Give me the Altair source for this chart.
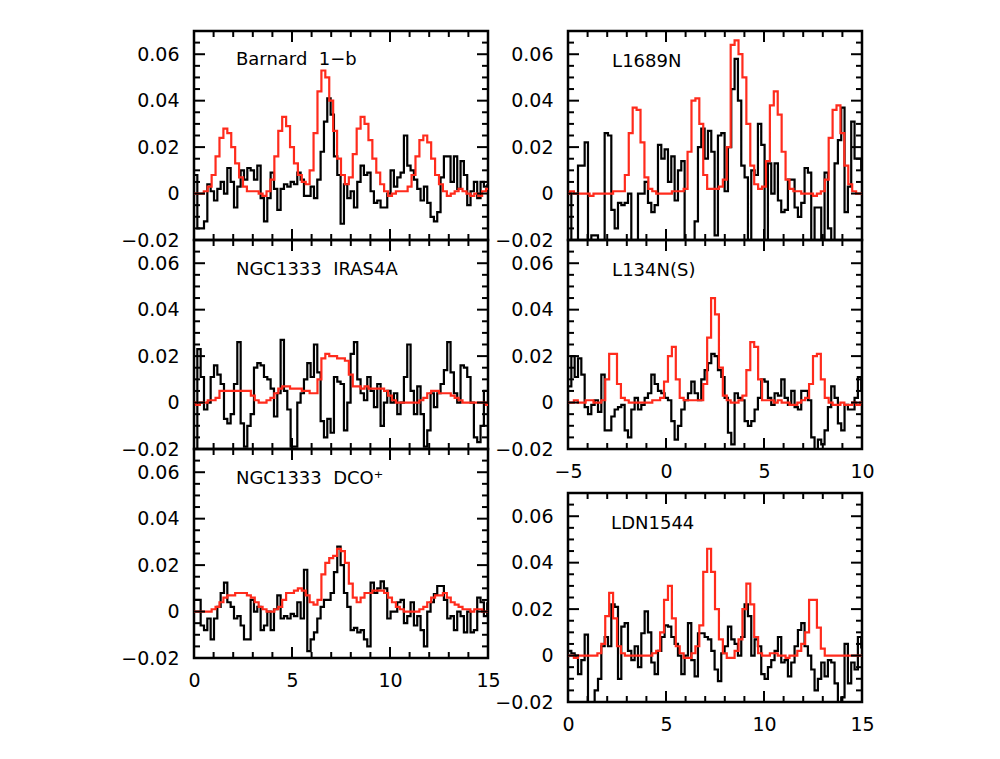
import altair as alt
import pandas as pd

# ---------------- data ----------------
DV_OBS = 0.17   # observed channel width (km/s)
DV_MOD = 0.2    # model grid step (km/s)

# Barnard 1-b
b1_obs_x0 = 0.0
b1_obs = [0.008, -0.015, -0.015, -0.012, 0.004, 0.001, -0.003, 0.002, 0.005, 0.000,
          0.011, 0.005, -0.006, 0.003, 0.010, 0.006, 0.011, 0.010, 0.006, 0.012,
          -0.002, -0.012, -0.002, 0.009, 0.002, -0.007, 0.002, 0.004, 0.003, 0.005,
          0.004, 0.009, 0.006, -0.001, -0.001, 0.003, -0.002, 0.006, 0.018, 0.031,
          0.041, 0.034, 0.016, 0.008, -0.013, 0.004, -0.002, 0.001, -0.006, 0.005,
          0.012, 0.008, 0.009, 0.001, -0.004, -0.003, -0.006, -0.006, 0.000, 0.010,
          0.003, 0.007, 0.009, 0.025, 0.012, 0.010, 0.006, 0.002, -0.003, 0.003,
          -0.004, -0.010, -0.012, -0.008, 0.007, 0.016, 0.016, 0.005, 0.016, 0.002,
          0.014, 0.008, -0.005, 0.001, 0.005, -0.002, 0.005, 0.003, 0.004]
b1_mod_x0 = 0.0
b1_mod = [0.000, 0.000, 0.000, 0.001, 0.003, 0.008, 0.016, 0.024, 0.028, 0.026,
          0.020, 0.013, 0.007, 0.003, 0.001, 0.001, 0.001, 0.000, -0.001, 0.001,
          0.006, 0.016, 0.027, 0.033, 0.029, 0.020, 0.013, 0.008, 0.005, 0.004,
          0.010, 0.026, 0.044, 0.053, 0.050, 0.040, 0.027, 0.015, 0.008, 0.004,
          0.007, 0.017, 0.028, 0.033, 0.030, 0.023, 0.015, 0.009, 0.004, 0.001,
          -0.001, 0.000, 0.001, 0.001, 0.001, 0.003, 0.008, 0.016, 0.023, 0.025,
          0.022, 0.015, 0.008, 0.004, 0.001, -0.001, 0.000, 0.001, 0.002, 0.001,
          0.000, -0.001, 0.000, -0.001, 0.001, 0.002]

# NGC1333 IRAS4A
i4_obs_x0 = 0.0
i4_obs = [-0.021, 0.023, 0.011, -0.003, 0.000, 0.011, 0.016, 0.012, 0.008, -0.007,
          -0.009, -0.005, 0.008, 0.026, -0.009, -0.019, -0.010, -0.005, 0.015, 0.017,
          0.016, 0.011, 0.010, 0.006, -0.006, 0.004, 0.027, 0.005, -0.003, -0.019,
          -0.019, 0.000, 0.004, 0.010, 0.017, 0.011, 0.025, 0.013, -0.008, -0.015,
          -0.007, -0.013, 0.011, 0.009, 0.008, -0.012, 0.000, 0.021, 0.026, 0.010,
          0.004, 0.001, 0.011, 0.005, -0.002, 0.008, -0.010, 0.000, 0.005, 0.000,
          0.004, -0.005, 0.000, 0.011, 0.025, 0.005, -0.005, 0.007, -0.005, -0.019,
          -0.012, 0.004, -0.002, 0.004, 0.008, 0.014, 0.026, 0.013, 0.004, 0.000,
          0.016, 0.015, 0.011, 0.000, -0.015, -0.017, -0.010, 0.005, 0.005]
i4_mod_x0 = 0.0
i4_mod = [0.000, -0.001, 0.000, 0.000, 0.001, 0.001, 0.002, 0.005, 0.005, 0.005,
          0.005, 0.005, 0.005, 0.005, 0.005, 0.003, 0.001, 0.000, 0.000, 0.001,
          0.002, 0.004, 0.006, 0.007, 0.007, 0.006, 0.006, 0.006, 0.005, 0.005,
          0.004, 0.004, 0.010, 0.019, 0.021, 0.020, 0.020, 0.019, 0.019, 0.018,
          0.012, 0.007, 0.007, 0.006, 0.007, 0.006, 0.006, 0.006, 0.006, 0.005,
          0.003, 0.001, 0.000, 0.000, 0.000, 0.000, 0.000, 0.000, 0.001, 0.002,
          0.004, 0.005, 0.005, 0.004, 0.004, 0.004, 0.003, 0.002, 0.001, 0.000,
          0.000, 0.000, 0.000, 0.000, 0.000, -0.001]

# NGC1333 DCO+
dc_obs_x0 = 0.0
dc_obs = [0.005, 0.005, -0.006, -0.008, -0.003, -0.012, -0.003, 0.002, 0.008, 0.0125,
          0.004, 0.002, -0.003, -0.002, -0.006, -0.012, -0.012, 0.005, 0.000, 0.002,
          -0.008, -0.006, 0.000, -0.008, 0.001, 0.007, -0.003, -0.002, -0.003, -0.001,
          -0.002, 0.004, -0.003, 0.018, -0.017, -0.012, -0.009, -0.003, 0.002, 0.005,
          0.005, 0.008, 0.017, 0.028, 0.020, 0.008, 0.002, -0.008, -0.007, -0.009,
          -0.008, -0.012, -0.015, 0.0125, 0.008, 0.010, 0.013, 0.010, -0.003, 0.000,
          0.000, 0.004, 0.005, -0.005, -0.002, 0.004, -0.006, -0.002, -0.008, -0.015,
          0.000, 0.004, 0.0075, 0.011, 0.011, 0.005, -0.003, -0.002, -0.008, 0.000,
          -0.002, -0.009, 0.000, -0.009, -0.008, 0.006, 0.004, -0.002, 0.004]
dc_mod_x0 = 0.0
dc_mod = [0.000, 0.000, 0.000, 0.000, 0.000, 0.001, 0.002, 0.004, 0.006, 0.007,
          0.007, 0.008, 0.008, 0.008, 0.007, 0.006, 0.004, 0.002, 0.001, 0.000,
          0.000, 0.001, 0.002, 0.005, 0.008, 0.008, 0.009, 0.010, 0.009, 0.007,
          0.004, 0.003, 0.005, 0.016, 0.021, 0.023, 0.024, 0.027, 0.026, 0.021,
          0.012, 0.006, 0.004, 0.006, 0.008, 0.008, 0.009, 0.009, 0.009, 0.008,
          0.006, 0.004, 0.002, 0.001, 0.000, 0.000, 0.000, 0.000, 0.001, 0.002,
          0.004, 0.006, 0.007, 0.007, 0.008, 0.006, 0.004, 0.003, 0.002, 0.001,
          0.001, 0.000, 0.001, 0.001, 0.000, 0.000]

# L1689N
l16_obs_x0 = -5.0
l16_obs = [0.000, -0.025, -0.025, 0.012, 0.012, 0.022, -0.025, -0.018, -0.018, -0.025,
           -0.025, 0.026, 0.025, -0.007, -0.015, -0.004, -0.005, -0.004, 0.000, -0.025,
           -0.025, 0.000, 0.000, 0.005, -0.004, -0.008, -0.005, 0.021, 0.015, 0.019,
           0.005, 0.016, -0.003, 0.010, 0.014, -0.025, -0.025, -0.025, -0.012, 0.020,
           0.028, 0.015, 0.027, 0.018, -0.018, 0.025, 0.026, 0.001, 0.020, 0.045,
           0.058, 0.040, 0.012, 0.007, -0.025, 0.010, 0.008, 0.030, 0.021, -0.025,
           0.013, 0.000, 0.013, -0.003, -0.008, -0.007, 0.006, 0.006, -0.006, -0.010,
           -0.004, 0.011, 0.009, -0.020, -0.006, -0.006, -0.020, 0.009, -0.015, -0.020,
           0.013, 0.023, 0.037, -0.008, 0.003, 0.031, 0.015, 0.015, 0.010]
l16_mod_x0 = -5.0
l16_mod = [0.000, 0.001, 0.000, 0.000, 0.000, 0.000, -0.001, 0.000, 0.000, 0.000,
           0.000, 0.000, 0.001, 0.001, 0.001, 0.008, 0.026, 0.037, 0.036, 0.022,
           0.007, 0.002, 0.001, 0.000, 0.000, 0.000, 0.000, 0.001, 0.001, 0.001,
           0.002, 0.018, 0.040, 0.041, 0.030, 0.008, 0.002, 0.002, 0.002, 0.003,
           0.006, 0.020, 0.064, 0.066, 0.060, 0.050, 0.030, 0.012, 0.004, 0.002,
           0.003, 0.014, 0.038, 0.044, 0.034, 0.018, 0.006, 0.002, 0.001, 0.001,
           0.000, 0.000, 0.000, -0.001, 0.000, 0.001, 0.006, 0.024, 0.036, 0.038,
           0.026, 0.012, 0.004, 0.001, 0.000, 0.000]

# L134N(S)
l134_obs_x0 = -5.0
l134_obs = [0.007, 0.020, 0.011, 0.019, 0.012, -0.002, -0.005, -0.001, 0.001, -0.004,
            0.012, -0.012, -0.012, -0.006, -0.003, -0.002, -0.001, -0.012, -0.015, -0.003,
            0.002, -0.003, -0.001, 0.002, 0.004, 0.012, 0.008, 0.005, 0.004, 0.002,
            0.001, -0.008, -0.016, -0.010, -0.003, 0.001, 0.004, 0.009, 0.004, 0.001,
            0.010, 0.014, 0.017, 0.021, 0.020, 0.014, 0.011, 0.002, -0.013, -0.018,
            0.004, 0.002, 0.001, -0.008, -0.010, -0.008, -0.003, 0.002, 0.010, 0.009,
            0.002, -0.001, 0.004, 0.003, 0.010, 0.002, -0.001, 0.005, -0.002, -0.003,
            0.005, 0.005, 0.001, -0.015, -0.020, -0.016, -0.018, -0.012, -0.002, 0.007,
            0.002, -0.009, -0.012, -0.001, -0.003, -0.003, 0.002, 0.011, 0.005]
l134_mod_x0 = -5.0
l134_mod = [0.000, 0.000, 0.001, 0.000, 0.000, 0.001, 0.001, 0.000, 0.000, 0.001,
            0.010, 0.021, 0.021, 0.008, 0.002, 0.001, 0.000, 0.000, 0.000, 0.000,
            0.000, 0.000, 0.001, 0.001, 0.002, 0.009, 0.020, 0.024, 0.010, 0.002,
            0.001, 0.001, 0.001, 0.001, 0.001, 0.008, 0.028, 0.045, 0.038, 0.015,
            0.003, 0.001, 0.000, 0.000, 0.001, 0.003, 0.014, 0.026, 0.024, 0.010,
            0.001, 0.001, 0.001, 0.000, 0.001, 0.000, 0.000, -0.001, -0.001, 0.000,
            0.001, 0.002, 0.008, 0.020, 0.021, 0.010, 0.002, 0.000, -0.001, -0.001,
            0.000, -0.001, -0.001, 0.000, -0.001, 0.000]

# LDN1544
ldn_obs_x0 = 0.0
ldn_obs = [0.002, 0.001, 0.000, -0.008, -0.002, 0.009, -0.021, -0.021, -0.015, -0.010,
           0.004, 0.008, 0.004, 0.022, 0.021, -0.010, 0.0125, 0.014, 0.002, -0.002,
           0.004, -0.005, 0.0096, 0.019, 0.010, -0.003, -0.008, 0.002, 0.008, 0.013,
           0.0125, 0.008, 0.005, 0.000, -0.008, 0.000, 0.014, -0.002, -0.009, 0.0096,
           0.0096, 0.008, 0.007, 0.002, -0.006, -0.011, 0.001, 0.004, 0.0125, 0.007,
           0.005, 0.000, 0.008, 0.022, 0.017, 0.000, 0.007, 0.004, -0.008, -0.010,
           -0.005, -0.002, 0.002, 0.008, -0.003, -0.002, -0.009, -0.003, 0.004, 0.011,
           0.014, 0.004, 0.000, -0.006, -0.015, -0.010, -0.003, -0.009, -0.002, -0.003,
           -0.012, -0.021, -0.018, 0.005, -0.012, -0.003, -0.006, 0.008, 0.003]
ldn_mod_x0 = 0.0
ldn_mod = [0.000, 0.000, -0.001, 0.000, 0.000, 0.000, 0.000, 0.000, 0.001, 0.005,
           0.017, 0.027, 0.016, 0.004, 0.001, 0.000, 0.000, 0.000, 0.000, 0.000,
           0.000, 0.000, 0.001, 0.002, 0.010, 0.024, 0.030, 0.016, 0.004, 0.001,
           -0.001, -0.001, 0.001, 0.004, 0.013, 0.036, 0.046, 0.036, 0.020, 0.007,
           0.001, -0.001, -0.001, 0.002, 0.007, 0.020, 0.031, 0.022, 0.008, 0.001,
           0.000, 0.000, 0.001, 0.001, 0.000, 0.000, -0.001, 0.000, 0.000, 0.002,
           0.005, 0.010, 0.024, 0.024, 0.012, 0.003, 0.000, 0.000, 0.000, 0.000,
           0.000, 0.000, 0.000, 0.000, 0.000, 0.000]

# axis ticks / labels
Y_MAJOR = [-0.02, 0.0, 0.02, 0.04, 0.06]
Y_MINOR = [-0.015, -0.01, -0.005, 0.005, 0.01, 0.015, 0.025, 0.03, 0.035,
           0.045, 0.05, 0.055, 0.065]
X_MAJOR_A = [0, 5, 10, 15]
X_MINOR_A = [1, 2, 3, 4, 6, 7, 8, 9, 11, 12, 13, 14]
X_MAJOR_B = [-5, 0, 5, 10]
X_MINOR_B = [-4, -3, -2, -1, 1, 2, 3, 4, 6, 7, 8, 9]

# ---------------- style ----------------
W, H = 294, 209
FONT = "DejaVu Sans"
RED = "#ff2b1c"
MAJ, MIN = 11, 6
LW = 2.2


def tick_layers(xenc, yenc, xmaj, xmin):
    layers = []
    for vals, L in ((Y_MAJOR, MAJ), (Y_MINOR, MIN)):
        base = alt.Chart(pd.DataFrame({"T": vals})).mark_rule(color="black", strokeWidth=2)
        layers.append(base.encode(y=yenc, x=alt.value(0), x2=alt.value(L)))
        layers.append(base.encode(y=yenc, x=alt.value(W), x2=alt.value(W - L)))
    for vals, L in ((xmaj, MAJ), (xmin, MIN)):
        base = alt.Chart(pd.DataFrame({"v": vals})).mark_rule(color="black", strokeWidth=2)
        layers.append(base.encode(x=xenc, y=alt.value(H), y2=alt.value(H - L)))
        layers.append(base.encode(x=xenc, y=alt.value(0), y2=alt.value(L)))
    return layers


def panel(obs_x0, obs, mod_x0, mod, xdom, xmaj, xmin, label, lx, ly, xlabels):
    odf = pd.DataFrame({"v": [obs_x0 + i * DV_OBS for i in range(len(obs))], "T": obs})
    mdf = pd.DataFrame({"v": [mod_x0 + i * DV_MOD for i in range(len(mod))], "T": mod})
    xs = alt.Scale(domain=xdom, nice=False, zero=False)
    ys = alt.Scale(domain=[-0.02, 0.07], nice=False, zero=False)
    if xlabels:
        xaxis = alt.Axis(values=xmaj, title=None, tickColor="transparent", domain=False,
                         grid=False, labelPadding=8, labelFlush=False,
                         labelOverlap=False, format="d", orient="bottom")
    else:
        xaxis = None
    yaxis = alt.Axis(values=Y_MAJOR, title=None, tickColor="transparent", domain=False,
                     grid=False, labelPadding=10, labelOverlap=False, labelFlush=False,
                     orient="left",
                     labelExpr="datum.value == 0 ? '0' : format(datum.value, '.2f')")
    xenc = alt.X("v:Q", scale=xs, axis=xaxis)
    yenc = alt.Y("T:Q", scale=ys, axis=yaxis)
    obs_line = alt.Chart(odf).mark_line(
        interpolate="step-after", color="black", strokeWidth=LW, clip=True
    ).encode(x=xenc, y=yenc)
    mod_line = alt.Chart(mdf).mark_line(
        interpolate="step", color=RED, strokeWidth=LW, clip=True
    ).encode(x=xenc, y=yenc)
    txt = alt.Chart(pd.DataFrame({"v": [lx], "T": [ly], "t": [label]})).mark_text(
        align="left", baseline="middle", font=FONT, fontSize=18, color="black"
    ).encode(x=xenc, y=yenc, text="t:N")
    return alt.layer(obs_line, mod_line, txt, *tick_layers(xenc, yenc, xmaj, xmin)).properties(
        width=W, height=H)


p1 = panel(b1_obs_x0, b1_obs, b1_mod_x0, b1_mod, [0, 15], X_MAJOR_A, X_MINOR_A,
           "Barnard\u00a0\u00a01\u2212b", 2.14, 0.0573, False)
p2 = panel(i4_obs_x0, i4_obs, i4_mod_x0, i4_mod, [0, 15], X_MAJOR_A, X_MINOR_A,
           "NGC1333\u00a0\u00a0IRAS4A", 2.14, 0.0571, False)
p3 = panel(dc_obs_x0, dc_obs, dc_mod_x0, dc_mod, [0, 15], X_MAJOR_A, X_MINOR_A,
           "NGC1333\u00a0\u00a0DCO\u207a", 2.14, 0.0571, True)
p4 = panel(l16_obs_x0, l16_obs, l16_mod_x0, l16_mod, [-5, 10], X_MAJOR_B, X_MINOR_B,
           "L1689N", -2.75, 0.0567, False)
p5 = panel(l134_obs_x0, l134_obs, l134_mod_x0, l134_mod, [-5, 10], X_MAJOR_B, X_MINOR_B,
           "L134N(S)", -2.75, 0.0567, True)
p6 = panel(ldn_obs_x0, ldn_obs, ldn_mod_x0, ldn_mod, [0, 15], X_MAJOR_A, X_MINOR_A,
           "LDN1544", 2.2, 0.0567, True)

left = alt.vconcat(p1, p2, p3, spacing=0, bounds="flush")
right = alt.vconcat(alt.vconcat(p4, p5, spacing=0, bounds="flush"), p6, spacing=7)

chart = alt.hconcat(left, right, spacing=-9).properties(
    padding={"left": 119, "top": 28, "right": 5, "bottom": 5},
    background="white",
).configure_view(
    stroke="black", strokeWidth=2.5
).configure_axis(
    labelFont=FONT, labelFontSize=19, labelColor="black"
)

chart.save("out.html", embed_options={"renderer": "svg", "actions": False})
